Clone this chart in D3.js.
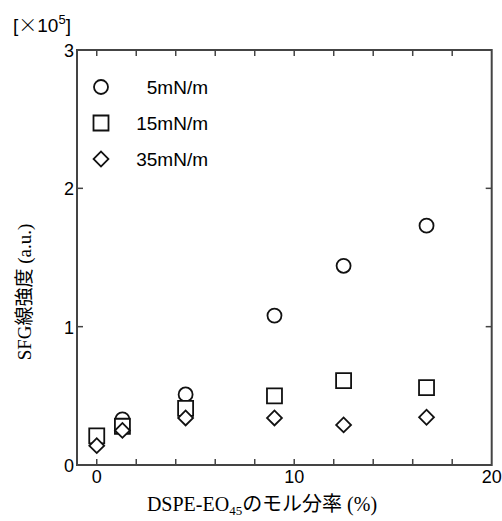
<!DOCTYPE html>
<html>
<head>
<meta charset="utf-8">
<script src="https://cdn.jsdelivr.net/npm/d3@7"></script>
<style>
  body { margin: 0; background: #fff; }
  svg { display: block; }
</style>
</head>
<body>
<div id="chart"></div>
<script>
// data (y in units of 1e5)
const molFraction = [0, 1.3, 4.5, 9, 12.5, 16.7];
const sfg5 = [null, 0.33, 0.51, 1.08, 1.44, 1.73];
const sfg15 = [0.21, 0.28, 0.41, 0.50, 0.61, 0.56];
const sfg35 = [0.14, 0.25, 0.34, 0.34, 0.29, 0.345];
const seriesNames = ["5mN/m", "15mN/m", "35mN/m"];
const xTickLabels = [0, 10, 20];
const yTickLabels = [0, 1, 2, 3];

const width = 502, height = 521;
const margin = { top: 50, right: 10, bottom: 56, left: 77 };

const svg = d3.select("#chart").append("svg")
    .attr("width", width)
    .attr("height", height);

const x = d3.scaleLinear().domain([-1, 20]).range([margin.left, 491.7]);
const y = d3.scaleLinear().domain([0, 3]).range([465, margin.top]);

const axisColor = "#444";
const tickFont = "'Liberation Sans', Arial, sans-serif";
const serifFont = "'Liberation Serif', 'Times New Roman', 'Noto Sans CJK JP', serif";

// frame
svg.append("rect")
    .attr("x", x(-1)).attr("y", y(3))
    .attr("width", x(20) - x(-1)).attr("height", y(0) - y(3))
    .attr("fill", "none").attr("stroke", axisColor).attr("stroke-width", 2);

// inward ticks, all four sides
const xTicks = d3.range(0, 20, 2);
const tickLen = 6;
const frame = svg.append("g").attr("stroke", axisColor).attr("stroke-width", 1.5);
frame.selectAll(".xb").data(xTicks).enter().append("line")
    .attr("x1", d => x(d)).attr("x2", d => x(d))
    .attr("y1", y(0)).attr("y2", y(0) - tickLen);
frame.selectAll(".xt").data(xTicks).enter().append("line")
    .attr("x1", d => x(d)).attr("x2", d => x(d))
    .attr("y1", y(3)).attr("y2", y(3) + tickLen);
frame.selectAll(".yl").data([1, 2]).enter().append("line")
    .attr("x1", x(-1)).attr("x2", x(-1) + tickLen)
    .attr("y1", d => y(d)).attr("y2", d => y(d));
frame.selectAll(".yr").data([1, 2]).enter().append("line")
    .attr("x1", x(20)).attr("x2", x(20) - tickLen)
    .attr("y1", d => y(d)).attr("y2", d => y(d));

// tick labels
svg.selectAll(".xl").data(xTickLabels).enter().append("text")
    .attr("x", d => x(d)).attr("y", y(0) + 18)
    .attr("text-anchor", "middle")
    .style("font-family", tickFont).style("font-size", "18px")
    .text(d => d);
svg.selectAll(".ylab").data(yTickLabels).enter().append("text")
    .attr("x", x(-1) - 3).attr("y", d => y(d) + 7)
    .attr("text-anchor", "end")
    .style("font-family", tickFont).style("font-size", "18px")
    .text(d => d);

// [×10^5]
const mult = svg.append("text")
    .attr("x", 13).attr("y", 32)
    .style("font-family", tickFont).style("font-size", "19px");
mult.append("tspan").text("[");
mult.append("tspan").style("font-family", "'Noto Sans CJK JP', sans-serif").style("font-weight", 300).text("\u00d7");
mult.append("tspan").text("10");
mult.append("tspan").attr("dy", -8).style("font-size", "13px").text("5");
mult.append("tspan").attr("dy", 8).text("]");

// axis titles
const xTitle = svg.append("text")
    .attr("x", 262).attr("y", 511)
    .attr("text-anchor", "middle")
    .style("font-family", serifFont).style("font-size", "20px");
xTitle.append("tspan").text("DSPE-EO");
xTitle.append("tspan").attr("dy", 4).style("font-size", "13px").text("45");
xTitle.append("tspan").attr("dy", -4).text("のモル分率 (%)");

svg.append("text")
    .attr("transform", "translate(31,292) rotate(-90)")
    .attr("text-anchor", "middle")
    .style("font-family", serifFont).style("font-size", "19px")
    .text("SFG線強度 (a.u.)");

// markers
const symbols = [
    { shape: d3.symbolCircle, size: Math.PI * 7 * 7, rot: 0 },
    { shape: d3.symbolSquare, size: 15 * 15, rot: 0 },
    { shape: d3.symbolSquare, size: 10.5 * 10.5, rot: 45 }
];
const allSeries = [sfg5, sfg15, sfg35];

const marks = svg.append("g");
allSeries.forEach((vals, i) => {
    const pts = molFraction.map((m, j) => ({ m, v: vals[j] })).filter(d => d.v != null);
    marks.selectAll(".s" + i).data(pts).enter().append("path")
        .attr("d", d3.symbol().type(symbols[i].shape).size(symbols[i].size))
        .attr("transform", d => `translate(${x(d.m)},${y(d.v)}) rotate(${symbols[i].rot})`)
        .attr("fill", "#fff")
        .attr("stroke", "#111")
        .attr("stroke-width", 1.8);
});

// legend
const legend = svg.append("g");
seriesNames.forEach((name, i) => {
    const ly = 87 + i * 36;
    legend.append("path")
        .attr("d", d3.symbol().type(symbols[i].shape).size(symbols[i].size))
        .attr("transform", `translate(101,${ly}) rotate(${symbols[i].rot})`)
        .attr("fill", "#fff").attr("stroke", "#111").attr("stroke-width", 1.8);
    legend.append("text")
        .attr("x", 208).attr("y", ly + 7)
        .attr("text-anchor", "end")
        .style("font-family", tickFont).style("font-size", "19px")
        .text(name);
});
</script>
</body>
</html>
